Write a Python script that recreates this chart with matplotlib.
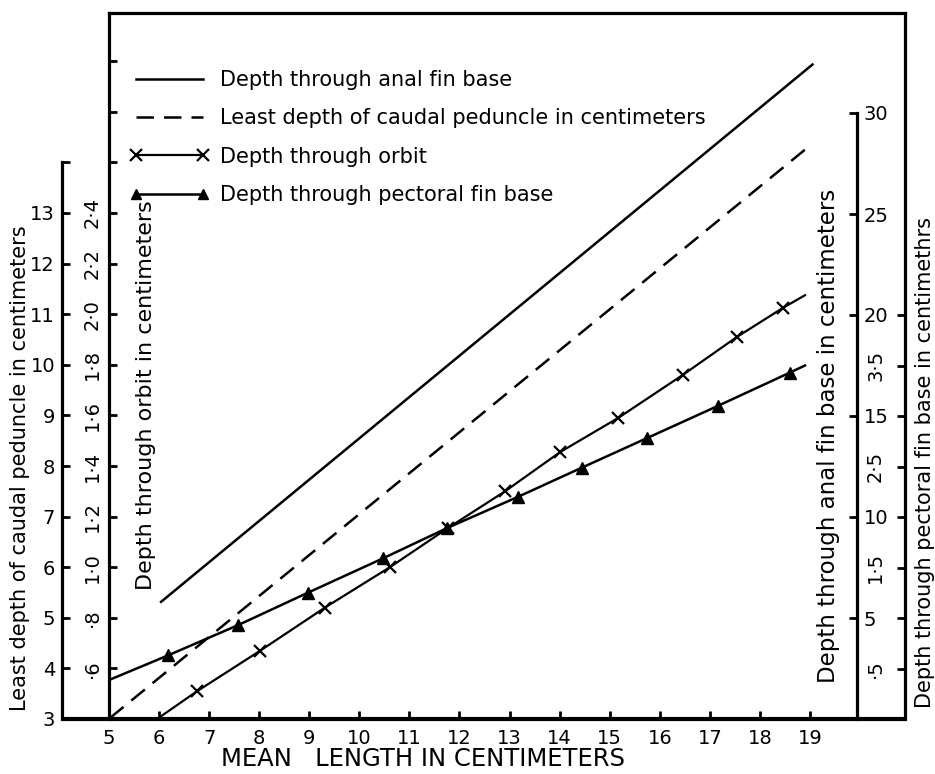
import matplotlib
matplotlib.use("Agg")
import matplotlib.pyplot as plt
from matplotlib.lines import Line2D

plt.rcParams["font.family"] = ["DejaVu Sans"]

# ---- data (mean length in cm vs. body depths in cm) ----
anal_length = [6.04, 19.05]
anal_depth = [5.8, 32.4]

caudal_length = [5.02, 18.96]
caudal_depth = [3.02, 14.3]

orbit_length = [5.96, 6.76, 8.02, 9.31, 10.61, 11.77, 12.91, 14.01,
                15.17, 16.46, 17.54, 18.46, 18.9]
orbit_depth = [0.40, 0.51, 0.67, 0.84, 1.00, 1.155, 1.30, 1.455,
               1.59, 1.76, 1.91, 2.025, 2.075]

pect_length = [5.02, 6.18, 7.58, 8.97, 10.47, 11.75, 13.17, 14.45,
               15.74, 17.16, 18.6, 18.9]
pect_depth = [0.39, 0.63, 0.93, 1.25, 1.59, 1.89, 2.20, 2.49,
              2.78, 3.10, 3.43, 3.50]

x_ticks = list(range(5, 20))
caudal_ticks = list(range(3, 15))
caudal_labels = [str(v) for v in range(3, 14)] + [""]
orbit_ticks = [0.6, 0.8, 1.0, 1.2, 1.4, 1.6, 1.8, 2.0, 2.2, 2.4, 2.6, 2.8, 3.0]
orbit_labels = ["·6", "·8", "1·0", "1·2", "1·4", "1·6", "1·8", "2·0",
                "2·2", "2·4", "", "", ""]
anal_ticks = [5, 10, 15, 20, 25, 30]
anal_labels = ["5", "10", "15", "20", "25", "30"]
pect_ticks = [0.5, 1.0, 1.5, 2.0, 2.5, 3.0, 3.5, 4.0]
pect_labels = ["·5", "", "1·5", "", "2·5", "", "3·5", ""]

# ---- figure geometry (pixels at 100 dpi) ----
W, H = 935, 774
L, R, B, T = 109, 905, 719, 13
px_per_cm = 50.07
px_caudal = 50.6
px_anal = 20.2
px_pect = 101.0

fig = plt.figure(figsize=(W / 100, H / 100), dpi=100)
ax = fig.add_axes([L / W, 1 - B / H, (R - L) / W, (B - T) / H])

ax.set_xlim(5, 5 + (R - L) / px_per_cm)
ax.set_ylim(3, 3 + (B - T) / px_caudal)

LW_SPINE = 2.3
TICK_KW = dict(direction="in", length=6, width=2.0, labelsize=14)

# main axes: caudal peduncle scale on the outer left spine
ax.spines["left"].set_position(("axes", (62 - L) / (R - L)))
ax.spines["left"].set_bounds(3, 14)
ax.spines["right"].set_visible(False)
ax.spines["bottom"].set_visible(False)
for s in ("left", "top"):
    ax.spines[s].set_linewidth(LW_SPINE)
ax.set_yticks(caudal_ticks)
ax.set_yticklabels(caudal_labels)
ax.tick_params(axis="y", pad=5, **TICK_KW)
ax.set_xticks(x_ticks)
ax.tick_params(axis="x", pad=7, **TICK_KW)
ax.plot([(62 - L) / (R - L), 1.0], [0, 0], transform=ax.transAxes,
        color="black", lw=3.0, clip_on=False, solid_capstyle="butt")

# orbit scale on the inner left spine
ax_o = ax.twinx()
ax_o.set_ylim(0.4, 0.4 + 0.2 * (B - T) / px_caudal)
for s in ("top", "bottom", "right"):
    ax_o.spines[s].set_visible(False)
ax_o.spines["left"].set_visible(True)
ax_o.spines["left"].set_linewidth(LW_SPINE)
ax_o.yaxis.tick_left()
ax_o.set_yticks(orbit_ticks)
ax_o.set_yticklabels(orbit_labels)
ax_o.tick_params(axis="y", pad=5, labelrotation=90, **TICK_KW)
for t in ax_o.get_yticklabels():
    t.set_va("center")

# anal fin base scale on an inner right spine
ax_a = ax.twinx()
ax_a.set_ylim(0, (B - T) / px_anal)
for s in ("top", "bottom", "left"):
    ax_a.spines[s].set_visible(False)
ax_a.spines["right"].set_position(("axes", (857 - L) / (R - L)))
ax_a.spines["right"].set_bounds(0, 30)
ax_a.spines["right"].set_linewidth(LW_SPINE)
ax_a.set_yticks(anal_ticks)
ax_a.set_yticklabels(anal_labels)
ax_a.tick_params(axis="y", pad=5, **TICK_KW)

# pectoral fin base scale on the outer right spine
ax_p = ax.twinx()
ax_p.set_ylim(0, (B - T) / px_pect)
for s in ("top", "bottom", "left"):
    ax_p.spines[s].set_visible(False)
ax_p.spines["right"].set_linewidth(LW_SPINE)
ax_p.set_yticks(pect_ticks)
ax_p.set_yticklabels(pect_labels)
ax_p.tick_params(axis="y", pad=-28, labelrotation=90, **TICK_KW)
for t in ax_p.get_yticklabels():
    t.set_va("center")

# ---- the four relationships ----
l_anal, = ax_a.plot(anal_length, anal_depth, color="black", lw=1.8,
                    label="Depth through anal fin base")
l_caud, = ax.plot(caudal_length, caudal_depth, color="black", lw=1.8,
                  dashes=(7, 4), label="Least depth of caudal peduncle in centimeters")
l_orb, = ax_o.plot(orbit_length, orbit_depth, color="black", lw=1.6,
                   marker="x", ms=9, mew=1.6, markevery=list(range(1, 12)),
                   label="Depth through orbit")
l_pec, = ax_p.plot(pect_length, pect_depth, color="black", lw=1.8,
                   marker="^", ms=8, markevery=list(range(1, 11)),
                   label="Depth through pectoral fin base")

handles = [
    Line2D([], [], color="black", lw=1.8),
    Line2D([], [], color="black", lw=1.8, dashes=(7, 4)),
    Line2D([], [], color="black", lw=1.6, marker="x", ms=8, mew=1.6),
    Line2D([], [], color="black", lw=1.8, marker="^", ms=7),
]
labels = [l_anal.get_label(), l_caud.get_label(), l_orb.get_label(), l_pec.get_label()]
fig.legend(handles, labels, loc="upper left", bbox_to_anchor=(130 / W, 1 - 70 / H),
           frameon=False, fontsize=15, handlelength=3.8, handletextpad=0.5,
           labelspacing=0.88, numpoints=2, borderpad=0, borderaxespad=0)

# ---- axis titles ----
fig.text(20 / W, 1 - 468 / H, "Least depth of caudal peduncle in centimeters",
         rotation=90, ha="center", va="center", fontsize=15)
fig.text(146 / W, 1 - 395 / H, "Depth through orbit in centimeters",
         rotation=90, ha="center", va="center", fontsize=16)
fig.text(828 / W, 1 - 436 / H, "Depth through anal fin base in centimeters",
         rotation=90, ha="center", va="center", fontsize=16.5)
fig.text(925 / W, 1 - 463 / H, "Depth through pectoral fin base in centimethrs",
         rotation=90, ha="center", va="center", fontsize=15)
fig.text(423 / W, 1 - 759 / H, "MEAN   LENGTH IN CENTIMETERS",
         ha="center", va="center", fontsize=17.5)

fig.savefig("out.png", dpi=100)
